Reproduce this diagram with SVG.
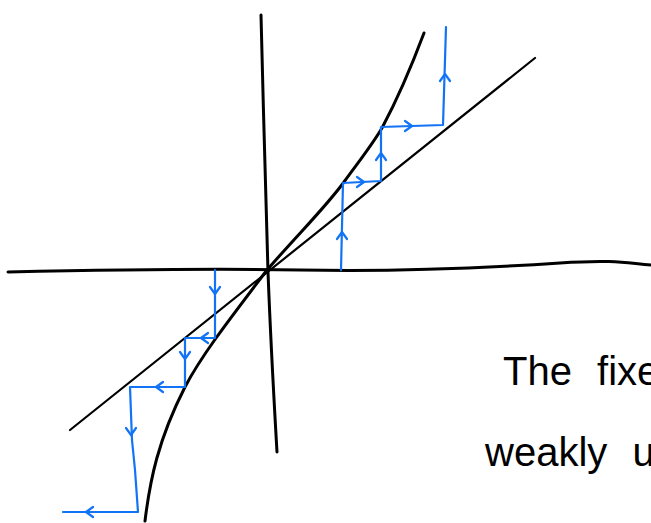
<svg xmlns="http://www.w3.org/2000/svg" xmlns:xlink="http://www.w3.org/1999/xlink" width="651" height="523" viewBox="0 0 651 523">
<style>
.ax{fill:none;stroke:#000;stroke-width:3;stroke-linecap:round;stroke-linejoin:round}
.diag{fill:none;stroke:#000;stroke-width:2.2;stroke-linecap:round}
.cw{fill:none;stroke:#1273f5;stroke-width:2.2;stroke-linecap:round;stroke-linejoin:round}
.txt{font-family:"Liberation Sans",Arial,sans-serif;font-size:40px;fill:#000;word-spacing:14px}
</style>
<defs>
<path id="up" d="M-5,5 L0,-2 L5,5" class="cw"/>
</defs>
<rect width="651" height="523" fill="#fff"/>
<g id="axes">
<path class="ax" d="M8,272 C100,270 200,268 300,270 S500,267 560,263 S630,264 651,265"/>
<path class="ax" d="M261,15 C263,100 266,200 268,272 C271,350 274,400 277,452"/>
</g>
<g id="diagonal">
<path class="diag" d="M70,430 L535,58"/>
</g>
<g id="curve">
<path class="ax" d="M145,521 C150,480 158,440 185,387 C200,358 225,325 267,270 C300,232 325,208 344,182 C360,160 372,145 382,128 C398,98 412,65 424,33"/>
</g>
<g id="connectors">
<path class="cw" d="M341,270 L343,183 L381,181 L381,127 L443,125 L446,27"/>
<path class="cw" d="M215,270 L215,338 L185,338 L185,387 L130,387 L132,440 L135,470 L138,512 L63,512"/>
<use xlink:href="#up" transform="translate(342,234)"/>
<use xlink:href="#up" transform="translate(381,155)"/>
<use xlink:href="#up" transform="translate(445,76)"/>
<use xlink:href="#up" transform="translate(362,182) rotate(90)"/>
<use xlink:href="#up" transform="translate(410,126) rotate(90)"/>
<use xlink:href="#up" transform="translate(215,292) rotate(180)"/>
<use xlink:href="#up" transform="translate(185,357) rotate(180)"/>
<use xlink:href="#up" transform="translate(131,433) rotate(180)"/>
<use xlink:href="#up" transform="translate(203,338) rotate(-90)"/>
<use xlink:href="#up" transform="translate(158,387) rotate(-90)"/>
<use xlink:href="#up" transform="translate(88,512) rotate(-90)"/>
</g>
<g id="label">
<text class="txt" x="503" y="385">The fixed</text>
<text class="txt" x="485" y="466">weakly u</text>
</g>
</svg>
